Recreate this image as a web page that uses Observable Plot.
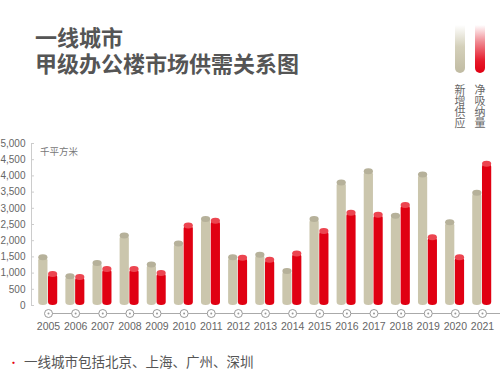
<!DOCTYPE html>
<html><head><meta charset="utf-8">
<script src="https://cdn.jsdelivr.net/npm/d3@7"></script>
<script src="https://cdn.jsdelivr.net/npm/@observablehq/plot@0.6"></script>
<style>
body{margin:0;background:#fff;}
#wrap{position:relative;width:500px;height:371px;overflow:hidden;font-family:"Noto Sans CJK SC","Noto Sans",sans-serif;background:#fff;}
#chart{position:absolute;left:0;top:0;}
.title{position:absolute;left:35px;font-family:"Liberation Sans","Noto Sans CJK SC",sans-serif;font-size:22px;line-height:24px;font-weight:bold;color:#555;white-space:nowrap;}
.lbar{position:absolute;top:25px;width:10px;height:48px;border-radius:0 0 5px 5px;}
.vtext{position:absolute;top:84px;writing-mode:vertical-rl;font-size:11px;line-height:12px;color:#666;letter-spacing:0px;}
.unit{position:absolute;left:40px;top:144px;font-size:9.5px;color:#777;}
.note{position:absolute;left:8px;top:351px;font-size:13.5px;color:#555;white-space:nowrap;}
.note span{color:#e60012;margin-right:5px;font-size:11px;}
</style></head><body>
<div id="wrap">
  <div id="chart"></div>
  <div class="title" id="t1" style="top:27px;"></div>
  <div class="title" id="t2" style="top:53px;"></div>
  <div class="lbar" style="left:455px;background:linear-gradient(to bottom,rgba(255,255,255,0) 0%,#d4d0ba 45%,#c0bba2 100%);"></div>
  <div class="lbar" style="left:475px;background:linear-gradient(to bottom,rgba(255,255,255,0) 0%,#f08a92 35%,#e6192a 75%,#e00012 100%);"></div>
  <div class="vtext" id="lg0" style="left:454px;"></div>
  <div class="vtext" id="lg1" style="left:474px;"></div>
  <div class="unit" id="unit"></div>
  <div class="note"><span>•</span><span id="note" style="color:#555;font-size:13.5px;margin:0"></span></div>
</div>
<script>
const years = [2005,2006,2007,2008,2009,2010,2011,2012,2013,2014,2015,2016,2017,2018,2019,2020,2021];
const supply = [1570,980,1390,2240,1340,1990,2750,1570,1640,1140,2750,3870,4220,2850,4120,2650,3560];
const absorption = [1050,960,1200,1200,1080,2550,2690,1550,1490,1680,2380,2940,2880,3180,2180,1570,4450];
const seriesNames = ["新增供应","净吸纳量"];
const yTicks = [0,500,1000,1500,2000,2500,3000,3500,4000,4500,5000];
const titleLines = ["一线城市","甲级办公楼市场供需关系图"];
const unitLabel = "千平方米";
const noteText = "一线城市包括北京、上海、广州、深圳";

document.getElementById("t1").textContent = titleLines[0];
document.getElementById("t2").textContent = titleLines[1];
document.getElementById("lg0").textContent = seriesNames[0];
document.getElementById("lg1").textContent = seriesNames[1];
document.getElementById("unit").textContent = unitLabel;
document.getElementById("note").textContent = noteText;

const xMin = 2004.373, xMax = 2021.664;
const rows = years.flatMap((y,i)=>[{year:y,s:0,v:supply[i]},{year:y,s:1,v:absorption[i]}]);
const sRows = rows.filter(d=>d.s===0), aRows = rows.filter(d=>d.s===1);
const bx1 = d => d.year + (d.s ? 0.0 : -0.36);
const bx2 = d => d.year + (d.s ? 0.34 : -0.02);

const plot = Plot.plot({
  width:500, height:371, marginTop:143, marginBottom:66, marginLeft:31, marginRight:0,
  x:{domain:[xMin,xMax], axis:null, label:null},
  y:{domain:[0,5000], axis:null, label:null},
  style:{fontFamily:"'Liberation Sans', Arial, sans-serif", fontSize:"10px", color:"#666", background:"transparent", overflow:"visible"},
  marks:[
    Plot.ruleX([xMin], {stroke:"#ccc"}),
    Plot.axisY(yTicks, {tickSize:0, tickPadding:6, tickFormat:d3.format(","), fill:"#666", fontSize:10, label:null}),
    Plot.axisY(yTicks, {tickSize:3, dx:3, tickFormat:()=>"", stroke:"#ccc", label:null}),
    Plot.ruleY([0], {x1:years[0], x2:xMax, dy:8, stroke:"#aaa"}),
    Plot.dot(years, {x:d=>d, frameAnchor:"bottom", dy:8, r:4, stroke:"#999", strokeWidth:1, fill:"#fff"}),
    Plot.dot(years, {x:d=>d, frameAnchor:"bottom", dy:8, r:1, fill:"#999", stroke:null}),
    Plot.axisX(years, {tickSize:0, tickPadding:17, tickFormat:d=>String(d), fill:"#666", fontSize:10.5, label:null}),
    Plot.rect(sRows, {x1:bx1, x2:bx2, y1:0, y2:"v", insetTop:3, rx:4.5, ry:3, fill:"#cbc6ad", ariaLabel:"sbody"}),
    Plot.rect(sRows, {x1:bx1, x2:bx2, y1:"v", y2:"v", insetTop:0, insetBottom:-6, rx:4.5, ry:3, fill:"#b6b19a", ariaLabel:"scap"}),
    Plot.rect(aRows, {x1:bx1, x2:bx2, y1:0, y2:"v", insetTop:3, rx:4.5, ry:3, fill:"#e00012", ariaLabel:"abody"}),
    Plot.rect(aRows, {x1:bx1, x2:bx2, y1:"v", y2:"v", insetTop:0, insetBottom:-6, rx:4.5, ry:3, fill:"#ec4550", ariaLabel:"acap"})
  ]
});
document.getElementById("chart").appendChild(plot);

const svg = d3.select(plot);
const defs = svg.insert("defs", ":first-child");
function grad(id, stops){
  const g = defs.append("linearGradient").attr("id",id).attr("x1","0").attr("x2","1").attr("y1","0").attr("y2","0");
  stops.forEach(([o,c])=>g.append("stop").attr("offset",o).attr("stop-color",c));
}
grad("gs", [["0","#d2cdb5"],["0.45","#d0cbb3"],["1","#bdb89f"]]);
grad("ga", [["0","#e4101f"],["0.5","#e6001a"],["1","#cc000f"]]);
svg.select('g[aria-label="sbody"]').attr("fill","url(#gs)");
svg.select('g[aria-label="abody"]').attr("fill","url(#ga)");
</script>
</body></html>
